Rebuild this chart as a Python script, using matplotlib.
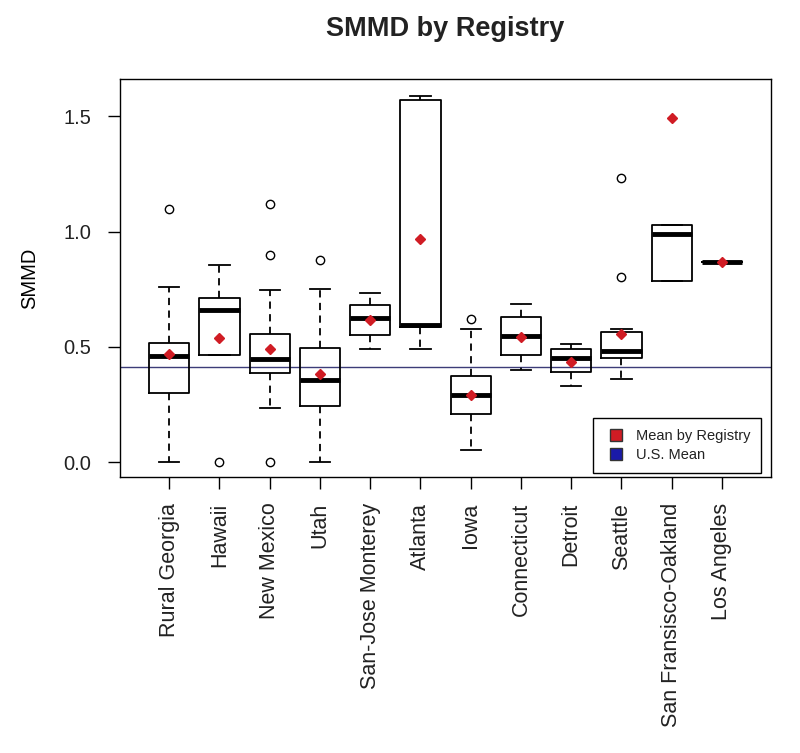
import matplotlib
matplotlib.use("Agg")
import matplotlib.pyplot as plt
from matplotlib.lines import Line2D

plt.rcParams['font.family'] = ['Liberation Sans', 'DejaVu Sans']
plt.rcParams['text.color'] = '#222222'

# ---- box statistics

registries = ["Rural Georgia", "Hawaii", "New Mexico", "Utah", "San-Jose Monterey",
              "Atlanta", "Iowa", "Connecticut", "Detroit", "Seattle",
              "San Fransisco-Oakland", "Los Angeles"]
whis_lo = [0.00, 0.463, 0.237, 0.00, 0.489, 0.489, 0.053, 0.400, 0.330, 0.362, 0.788, 0.867]
q1 = [0.299, 0.463, 0.388, 0.244, 0.553, 0.587, 0.208, 0.463, 0.392, 0.452, 0.788, 0.867]
medians = [0.459, 0.662, 0.446, 0.355, 0.625, 0.594, 0.291, 0.547, 0.452, 0.482, 0.991, 0.867]
q3 = [0.515, 0.713, 0.558, 0.496, 0.681, 1.571, 0.374, 0.631, 0.489, 0.566, 1.027, 0.867]
whis_hi = [0.759, 0.854, 0.746, 0.752, 0.732, 1.590, 0.580, 0.687, 0.514, 0.580, 1.027, 0.867]
outliers = [[1.10], [0.0], [1.121, 0.900, 0.0], [0.879], [], [], [0.623], [], [],
            [1.232, 0.804], [], []]
means = [0.469, 0.538, 0.489, 0.384, 0.619, 0.968, 0.291, 0.544, 0.434, 0.558, 1.492, 0.867]
us_mean = 0.414

stats = []
for i, name in enumerate(registries):
    stats.append(dict(label=name, whislo=whis_lo[i], q1=q1[i], med=medians[i],
                      q3=q3[i], whishi=whis_hi[i], fliers=outliers[i]))

fig = plt.figure(figsize=(8, 7.53), dpi=100)
ax = fig.add_axes([0.15, 0.3665, 0.814, 0.528])

pos = list(range(1, len(registries) + 1))
ax.bxp(stats, positions=pos, widths=0.8, capwidths=0.4,
       boxprops=dict(color='black', linewidth=1.3),
       whiskerprops=dict(color='black', linewidth=1.3, linestyle=(0, (4, 3))),
       capprops=dict(color='black', linewidth=1.3),
       medianprops=dict(color='black', linewidth=3.5, solid_capstyle='butt'),
       flierprops=dict(marker='o', markersize=6, markerfacecolor='none',
                       markeredgecolor='black', markeredgewidth=1))

ax.axhline(us_mean, color='#3c3c78', linewidth=1, zorder=1)
ax.plot(pos, means, linestyle='none', marker='D', markersize=5,
        color='#d01c24', zorder=5)

ax.set_xlim(0.02, 12.98)
ax.set_ylim(-0.064, 1.66)
ax.set_yticks([0.0, 0.5, 1.0, 1.5])
ax.set_yticklabels(["0.0", "0.5", "1.0", "1.5"])
ax.set_xticks(pos)
ax.set_xticklabels(registries, rotation=90)
ax.tick_params(length=8.5, width=1, color='black', labelcolor='#222222')
ax.tick_params(axis='y', labelsize=14.5, pad=12)
ax.tick_params(axis='x', labelsize=15.5, pad=10)
for sp in ax.spines.values():
    sp.set_linewidth(1)

ax.set_ylabel("SMMD", fontsize=14.5, labelpad=18)
ax.set_title("SMMD by Registry", fontsize=19.5, fontweight='bold', pad=31)

handles = [Line2D([], [], linestyle='none', marker='s', markersize=8,
                  markerfacecolor='#d01c24', markeredgecolor='#333333'),
           Line2D([], [], linestyle='none', marker='s', markersize=8,
                  markerfacecolor='#1a1aa8', markeredgecolor='#333333')]
leg = ax.legend(handles, ["Mean by Registry", "U.S. Mean"], loc='lower right',
                bbox_to_anchor=(0.985, 0.01), borderaxespad=0, fontsize=10.5,
                frameon=True, fancybox=False, edgecolor='black', framealpha=1,
                handlelength=1.6, handletextpad=0.6, borderpad=0.75,
                labelspacing=0.35)
leg.get_frame().set_linewidth(1)

fig.savefig("out.png", dpi=100)
